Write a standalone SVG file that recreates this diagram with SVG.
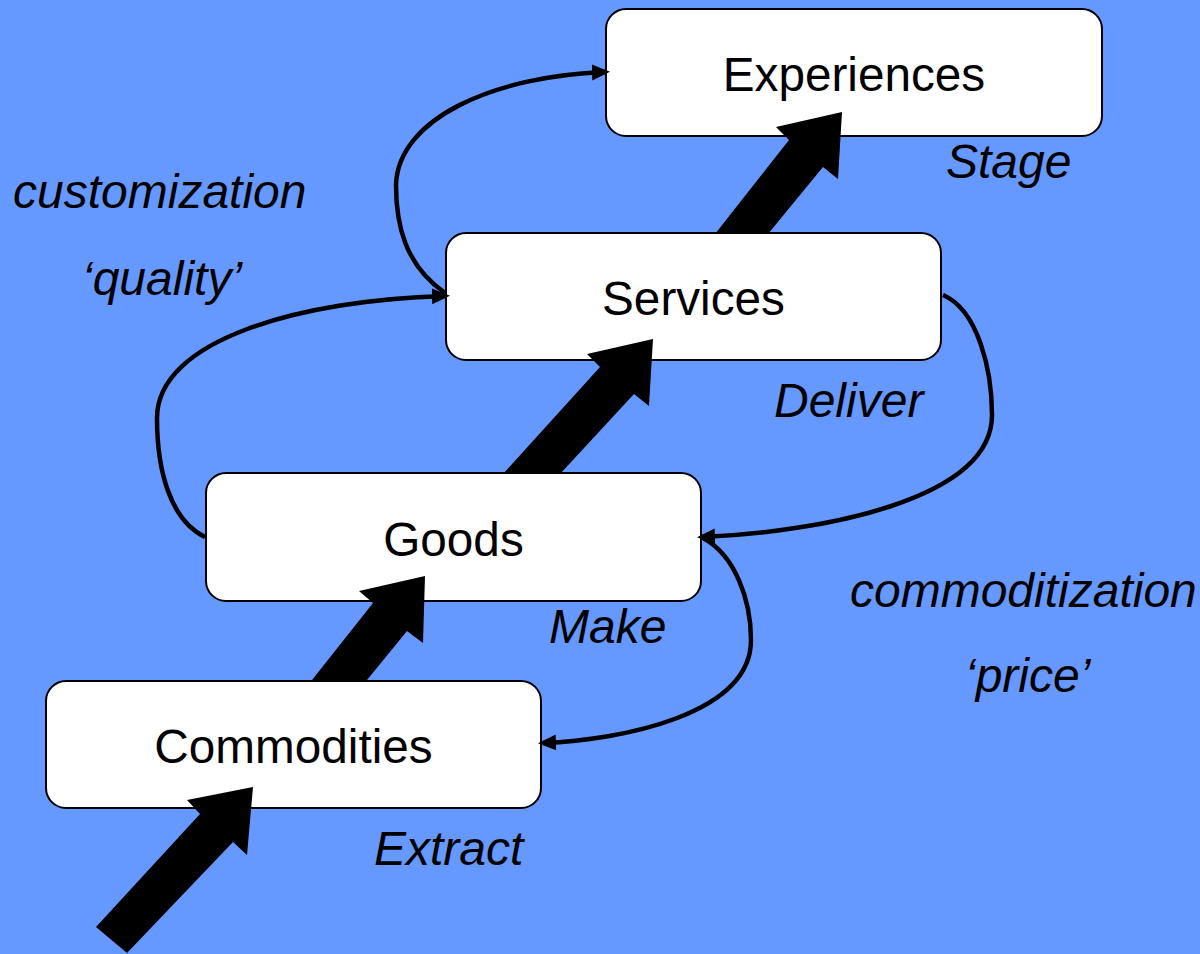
<svg xmlns="http://www.w3.org/2000/svg" width="1200" height="954" viewBox="0 0 1200 954">
<style>
.box{fill:#ffffff;stroke:#000000;stroke-width:2}
.nt{font-family:"Liberation Sans",Arial,sans-serif;font-size:47.7px;fill:#000;text-anchor:middle}
.lb{font-family:"Liberation Sans",Arial,sans-serif;font-size:48px;font-style:italic;fill:#000}
.curve{fill:none;stroke:#000;stroke-width:4.5;marker-end:url(#ah)}
.big{fill:#000}
</style>
<defs>
<marker id="ah" markerUnits="userSpaceOnUse" markerWidth="19" markerHeight="17" refX="13" refY="8" orient="auto">
<path d="M0,0 L18,8 L0,16 z" fill="#000"/>
</marker>
</defs>
<rect width="1200" height="954" fill="#6699FF"/>
<g id="node-experiences"><rect class="box" x="606" y="9" width="496" height="127" rx="20"/><text class="nt" x="854" y="91">Experiences</text></g>
<g id="node-services"><rect class="box" x="446" y="233" width="495" height="127" rx="20"/><text class="nt" x="693.5" y="315">Services</text></g>
<g id="node-goods"><rect class="box" x="206" y="473" width="495" height="128" rx="20"/><text class="nt" x="453.5" y="556">Goods</text></g>
<g id="node-commodities"><rect class="box" x="46" y="681" width="495" height="127" rx="20"/><text class="nt" x="293.5" y="763">Commodities</text></g>
<g id="labels">
<text class="lb" x="946" y="178">Stage</text>
<text class="lb" x="13" y="208">customization</text>
<text class="lb" x="82" y="295">‘quality’</text>
<text class="lb" x="774" y="417">Deliver</text>
<text class="lb" x="850" y="607">commoditization</text>
<text class="lb" x="965" y="692">‘price’</text>
<text class="lb" x="549" y="643">Make</text>
<text class="lb" x="374" y="865">Extract</text>
</g>
<g id="connectors">
<polygon class="big" points="715,234 789,140 776,127 842,112 838,179 823,167 768,234"/>
<polygon class="big" points="503,474 600,367 587,354 653,339 649,406 634,394 560,474"/>
<polygon class="big" points="312,680 373,603 359,591 425,576 423,643 407,631 367,680"/>
<polygon class="big" points="96,927 200,814 187,800 253,787 247,855 233,842 127,953"/>
<path class="curve" d="M445,293 C405,265 396,225 396,185 C398,118 495,76 605,72"/>
<path class="curve" d="M205,537 C170,520 157,470 157,418 C157,340 300,300 445,296"/>
<path class="curve" d="M943,295 C978,310 992,370 992,415 C992,500 820,532 702,537"/>
<path class="curve" d="M703,538 C735,555 751,600 751,640 C751,715 620,740 543,743"/>
</g>
</svg>
